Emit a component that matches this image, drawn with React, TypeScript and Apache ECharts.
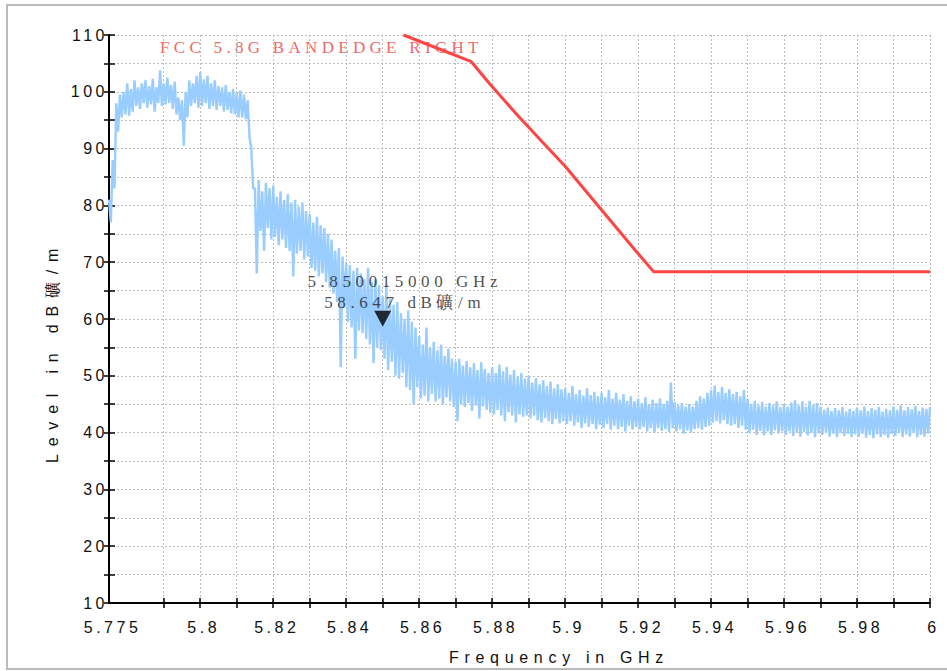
import React, { useEffect, useRef } from "react";
import * as echarts from "echarts";

// Sweep of the measured trace (GHz)
const freqStart = 5.775;
const freqStep = 0.001;

// Upper / lower excursions of the measured trace (dBµV/m), one pair per sweep step
const traceUpper = [
  81, 88, 98, 99.5, 100,
  101.5, 100.5, 102, 100.8, 101.5, 102, 101, 102.3, 100.8, 103.8,
  101.5, 102.5, 101.2, 101.8, 99, 98.5, 100, 102, 101.5, 102.8,
  103.5, 102.2, 102.8, 101.5, 102, 101, 100.8, 101.2, 100, 100.5,
  99.8, 100.2, 99.5, 98.5, 90, 83, 84.5, 82.5, 84, 83,
  83.5, 81.5, 82.5, 81, 82, 80.5, 81, 79.8, 80.5, 79,
  78.5, 77, 78, 76.5, 76, 75, 74, 72, 72.5, 71,
  70, 69.5, 68.5, 69, 68, 67, 69, 66.5, 67, 66,
  64, 66, 63.5, 62.5, 63, 61, 60, 61.5, 59.5, 58.5,
  57, 55.5, 58.5, 55, 56, 54.5, 55.5, 53.5, 54.8, 53,
  52.5, 53, 51.8, 52.6, 51.5, 52.2, 51, 52.4, 51.2, 50.5,
  51.5, 50.5, 52, 50.8, 51.6, 50.2, 51, 49.8, 50.5, 49.5,
  50, 48.8, 49.6, 48.5, 49.2, 48.2, 49, 47.8, 48.5, 47.6,
  47.8, 47, 48.2, 46.8, 47.5, 46.5, 47.8, 46.6, 47.2, 46.4,
  47, 46.2, 47.5, 46, 47, 45.8, 46.8, 45.6, 46.4, 45.5,
  46, 45.2, 46.2, 45, 45.8, 45.2, 46, 45, 45.6, 48.8,
  45.4, 44.8, 45.2, 44.6, 45, 44.6, 45.6, 46.4, 46, 47,
  47.5, 48.3, 47.2, 48, 47, 47.6, 46.8, 47.2, 46.4, 47.5,
  46, 45, 45.6, 44.8, 45.4, 44.6, 45.2, 44.8, 45.5, 44.5,
  45, 44.6, 45.3, 45.7, 44.8, 45.5, 44.6, 45.6, 44.9, 45.2,
  44.6, 44, 44.4, 43.8, 44.3, 43.9, 44.5, 43.7, 44.2, 43.8,
  44.4, 43.9, 44.6, 43.8, 44.3, 44, 44.5, 43.7, 44.2, 43.9,
  44.6, 44, 44.8, 43.9, 44.5, 44.1, 44.7, 43.8, 44.4, 44.2, 44.5,
];
const traceLower = [
  77, 83, 93, 95.5, 96,
  95.8, 96.5, 97.5, 97, 98, 97.2, 97.8, 96.5, 98, 97.5,
  97.8, 98, 97, 96, 95, 90.5, 95.5, 97.5, 98, 97.2,
  97.5, 98, 97, 97.5, 96.8, 97.5, 96.5, 96.8, 96.2, 96,
  95.5, 95.5, 95.2, 92, 83, 68, 75.5, 72, 76, 74,
  74.5, 73, 74, 72.5, 72, 67.5, 71.5, 72, 70.5, 71,
  69, 68.5, 67.5, 68, 66.5, 65.5, 64.5, 63, 51.5, 62,
  59.5, 58.5, 53, 58, 57.5, 56.5, 55.5, 52.2, 55, 54.5,
  53, 51, 52.5, 50, 49.5, 50.5, 48, 47.5, 45, 48,
  46, 46.5, 45.5, 46.8, 45.5, 46, 45, 46.2, 45.5, 44.5,
  42, 45, 44.5, 45.2, 43.8, 44.8, 42.5, 44.6, 44, 43.5,
  43.2, 44, 43, 42, 43.6, 43, 41.8, 43.2, 42.8, 43,
  42.5, 43, 42.2, 41.8, 42.6, 42, 41.5, 42.4, 41.6, 42,
  41.5, 42, 41.2, 41.8, 40.8, 41.6, 41, 41.5, 40.6, 41.4,
  40.8, 41.5, 40.5, 41.2, 40.6, 41, 40.2, 41.2, 40.5, 41,
  40.6, 41, 40.2, 40.8, 40, 40.8, 40.3, 40.6, 40.1, 40.8,
  40.2, 40.6, 39.8, 40.4, 40, 40.6, 40.8, 40.5, 41, 41.2,
  41.8, 42, 41.6, 42.2, 41.5, 41.2, 41.5, 40.8, 41.2, 40.5,
  39.9, 40.5, 39.6, 40.3, 39.5, 40.2, 39.6, 40.4, 39.8, 40.2,
  39.6, 40.2, 39.4, 40, 39.3, 40.1, 39.5, 40, 39.2, 39.9,
  39.6, 40, 39.3, 39.8, 39.2, 39.9, 39.4, 39.8, 39.2, 39.7,
  39.3, 39.8, 39.1, 39.6, 39, 39.7, 39.2, 39.6, 39.1, 39.8,
  39.4, 39.9, 39.2, 39.7, 39.3, 39.9, 39.2, 39.6, 39.3, 39.8,
];

// FCC 5.8G band-edge limit line
const limitFreq = [5.8557, 5.8743, 5.8792, 5.8869, 5.8937, 5.9, 5.9092, 5.9183, 5.9243, 6.0];
const limitLevel = [110.0, 105.3, 101.5, 95.9, 91.2, 86.9, 79.8, 72.8, 68.3, 68.3];

// Marker
const markerFreq = 5.850015;
const markerLevel = 58.647;
const markerLines = ["5.850015000 GHz", "58.647 dB礦/m"];

// Axes
const xTickValues = [5.79, 5.8, 5.81, 5.82, 5.83, 5.84, 5.85, 5.86, 5.87, 5.88, 5.89, 5.9, 5.91, 5.92, 5.93, 5.94, 5.95, 5.96, 5.97, 5.98, 5.99, 6];
const xLabelValues = [5.775, 5.8, 5.82, 5.84, 5.86, 5.88, 5.9, 5.92, 5.94, 5.96, 5.98, 6];
const yMin = 10;
const yMax = 110;
const yStep = 5;

const titleText = "FCC 5.8G BANDEDGE RIGHT";
const xName = "Frequency in GHz";
const yName = "Level in dB礦/m";

const SANS = '"Liberation Sans", Arial, sans-serif';
const SERIF = '"Liberation Serif", "DejaVu Serif", serif';

function spacingFor(t: string): number | null {
  if (!t) return null;
  if (t === titleText) return 4.3;
  if (markerLines.includes(t)) return 4.6;
  if (t === xName) return 5.7;
  if (t === yName) return 7.8;
  if (/^[\d.]+$/.test(t)) return 3.5;
  return null;
}

export default function App() {
  const ref = useRef<HTMLDivElement>(null);

  useEffect(() => {
    if (!ref.current) return;
    const chart = echarts.init(ref.current, undefined, { renderer: "svg" });

    const traceData: number[][] = [];
    for (let i = 0; i < traceUpper.length; i++) {
      const f = freqStart + i * freqStep;
      traceData.push([f, traceUpper[i]]);
      if (i < traceLower.length) traceData.push([f + freqStep / 2, traceLower[i]]);
    }
    const limitData = limitFreq.map((f, i) => [f, limitLevel[i]]);

    const xFmt = (v: number) => String(parseFloat(Number(v).toFixed(3)));
    const gridLine = { show: true, lineStyle: { color: "#bdbdbd", type: [2, 2], width: 1 } };

    const option: any = {
      animation: false,
      backgroundColor: "#ffffff",
      grid: { left: 109, right: 17, top: 35, bottom: 68 },
      xAxis: [
        {
          type: "value",
          min: freqStart,
          max: 6,
          position: "bottom",
          axisLine: { show: true, onZero: false, lineStyle: { color: "#000", width: 2 } },
          axisTick: { show: true, inside: true, length: 5, customValues: xTickValues, lineStyle: { color: "#000", width: 1.5 } },
          axisLabel: {
            show: true,
            customValues: xLabelValues,
            formatter: xFmt,
            margin: 16,
            padding: [0, 0, 0, 7],
            color: "#111",
            fontSize: 16,
            fontFamily: SANS,
          },
          splitLine: gridLine,
        },
        {
          type: "value",
          min: freqStart,
          max: 6,
          position: "bottom",
          offset: 0,
          axisLine: { show: false, onZero: false },
          axisTick: { show: true, inside: false, length: 5, customValues: xTickValues, lineStyle: { color: "#000", width: 1.5 } },
          axisLabel: { show: false },
          splitLine: { show: false },
        },
      ],
      yAxis: [
        {
          type: "value",
          min: yMin,
          max: yMax,
          interval: yStep,
          position: "left",
          axisLine: { show: true, onZero: false, lineStyle: { color: "#000", width: 2 } },
          axisTick: { show: true, inside: true, length: 6, lineStyle: { color: "#000", width: 1.5 } },
          axisLabel: {
            formatter: (v: number) => (v % 10 === 0 ? String(v) : ""),
            margin: 1,
            color: "#111",
            fontSize: 16,
            fontFamily: SANS,
          },
          splitLine: gridLine,
        },
        {
          type: "value",
          min: yMin,
          max: yMax,
          interval: yStep,
          position: "left",
          offset: 0,
          axisLine: { show: false, onZero: false },
          axisTick: { show: true, inside: false, length: 5, lineStyle: { color: "#000", width: 1.5 } },
          axisLabel: { show: false },
          splitLine: { show: false },
        },
      ],
      series: [
        {
          name: "Level",
          type: "line",
          xAxisIndex: 0,
          yAxisIndex: 0,
          data: traceData,
          showSymbol: false,
          symbol: "none",
          clip: true,
          silent: true,
          z: 2,
          lineStyle: { color: "#99ccff", width: 2.4 },
        },
        {
          name: "FCC limit",
          type: "line",
          xAxisIndex: 0,
          yAxisIndex: 0,
          data: limitData,
          showSymbol: false,
          symbol: "none",
          clip: true,
          silent: true,
          z: 3,
          lineStyle: { color: "#ff4444", width: 3 },
        },
        {
          name: "Marker",
          type: "scatter",
          xAxisIndex: 0,
          yAxisIndex: 0,
          data: [[markerFreq, markerLevel]],
          symbol: "triangle",
          symbolSize: [17, 16],
          symbolRotate: 180,
          symbolOffset: [0, -8],
          itemStyle: { color: "#000" },
          z: 5,
          silent: true,
          label: {
            show: true,
            position: "top",
            distance: 2,
            offset: [22, 4],
            formatter: markerLines.join("\n"),
            color: "#222",
            fontSize: 17,
            lineHeight: 20.5,
            fontFamily: SERIF,
          },
        },
      ],
      graphic: [
        {
          type: "rect",
          silent: true,
          z: -1,
          shape: { x: 7, y: 5, width: 960, height: 664 },
          style: { fill: "none", stroke: "#bbbbbb", lineWidth: 2 },
        },
        {
          type: "text",
          x: 160,
          y: 47,
          silent: true,
          style: { text: titleText, fill: "#f06a6a", fontSize: 17, fontFamily: SERIF, align: "left", verticalAlign: "middle" },
        },
        {
          type: "text",
          x: 559,
          y: 657,
          silent: true,
          style: { text: xName, fill: "#111", fontSize: 16, fontFamily: SANS, align: "center", verticalAlign: "middle" },
        },
        {
          type: "text",
          x: 52,
          y: 352,
          rotation: Math.PI / 2,
          silent: true,
          style: { text: yName, fill: "#111", fontSize: 16, fontFamily: SANS, align: "center", verticalAlign: "middle" },
        },
      ],
    };

    const applySpacing = () => {
      const root = ref.current;
      if (!root) return;
      root.querySelectorAll("text").forEach((el) => {
        const s = spacingFor((el.textContent || "").trim());
        if (s != null) el.setAttribute("letter-spacing", String(s));
      });
    };

    chart.on("rendered", applySpacing);
    chart.setOption(option);
    applySpacing();
    const t = window.setTimeout(applySpacing, 50);

    return () => {
      window.clearTimeout(t);
      chart.dispose();
    };
  }, []);

  return (
    <div
      ref={ref}
      style={{ position: "fixed", left: 0, top: 0, width: 947, height: 671, background: "#fff" }}
    />
  );
}
